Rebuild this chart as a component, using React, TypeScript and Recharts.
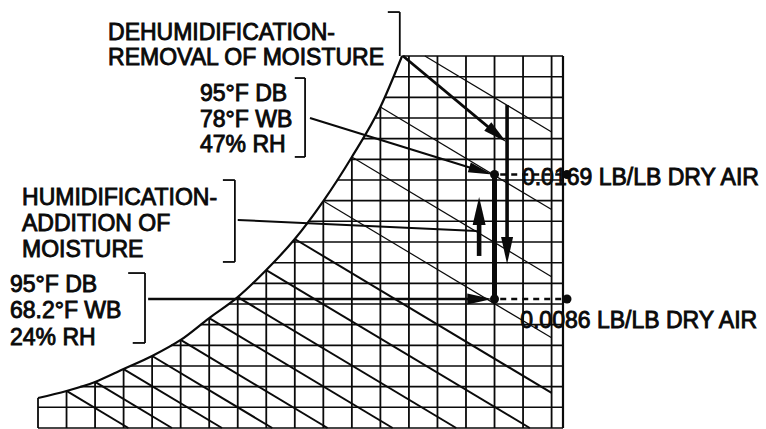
import React from 'react';
import { ComposedChart, Line, XAxis, YAxis, ReferenceLine, ReferenceDot } from 'recharts';

// ---- Chart frame (dry bulb °F on x, humidity ratio lb/lb on y) ----
const dryBulbDomain = [15, 107];
const humidityDomain = [0, 0.0248];

// ---- Saturation curve ----
const satTemps = [15, 20, 25, 30, 35, 40, 45, 50, 55, 60, 65, 70, 75, 78.8];
const satHumidity = [0.002, 0.00247, 0.00307, 0.00393, 0.0048, 0.00587, 0.00733, 0.00873, 0.01053, 0.0126, 0.01513, 0.01807, 0.0214, 0.0248];

// ---- Grid lines ----
const dryBulbGrid = [15, 20, 25, 30, 35, 40, 45, 50, 55, 60, 65, 70, 75, 80, 85, 90, 95, 100, 105];
const humidityGrid = [0, 0.00138, 0.00276, 0.00413, 0.00551, 0.00689, 0.00827, 0.00964, 0.01102, 0.0124, 0.01378, 0.01516, 0.01653, 0.01791, 0.01929, 0.02067, 0.02204, 0.02342, 0.0248];
const wetBulbStartTemps = [20, 25, 30, 35, 40, 45, 50, 55, 60, 65, 70, 75];
const wetBulbTopEntryTemps = [82.8];
const wetBulbSlope = -0.000228; // lb/lb per °F
const wetBulbEndTemp = 105;

// ---- Process states ----
const stateDryBulb = 95;
const stateHumidity = [0.0169, 0.0086];
const stateLabels = ['0.0169 LB/LB DRY AIR', '0.0086 LB/LB DRY AIR'];
const stateLabelPos = [[99.8, 0.0162], [99.5, 0.00667]];
const dashEndTemp = 107.7;

// ---- Text blocks ----
const dehumidText = ['DEHUMIDIFICATION-', 'REMOVAL OF MOISTURE'];
const highStateText = ['95°F DB', '78°F WB', '47% RH'];
const humidText = ['HUMIDIFICATION-', 'ADDITION OF', 'MOISTURE'];
const lowStateText = ['95°F DB', '68.2°F WB', '24% RH'];

// ---- Annotation geometry in chart units [t, w] ----
const dehumidLeader = [[78.96, 0.0248], [97.05, 0.01907]];
const dehumidArrow = [[97.2, 0.02153], [97.2, 0.01093]];
const humidArrow = [[92.3, 0.01147], [92.3, 0.0154]];
const highLeader = [[62.66, 0.02067], [94.6, 0.0169]];
const humidLeader = [[50.0, 0.01387], [91.9, 0.01313]];
const lowLeader = [[34.3, 0.0086], [94.6, 0.0086]];
const brackets = [
  [[76.3, 0.02773], [78.4, 0.02773], [78.4, 0.0248]],
  [[60.0, 0.02333], [61.8, 0.02333], [61.8, 0.01807], [60.0, 0.01807]],
  [[47.4, 0.01653], [49.5, 0.01653], [49.5, 0.01107], [47.4, 0.01107]],
  [[30.8, 0.01033], [33.75, 0.01033], [33.75, 0.00567], [31.6, 0.00567]],
];

function interp(xs: number[], ys: number[], x: number) {
  if (x <= xs[0]) return ys[0];
  for (let i = 1; i < xs.length; i++) {
    if (x <= xs[i]) {
      const f = (x - xs[i - 1]) / (xs[i] - xs[i - 1]);
      return ys[i - 1] + f * (ys[i] - ys[i - 1]);
    }
  }
  return ys[ys.length - 1];
}
const satW = (t: number) => (t > satTemps[satTemps.length - 1] ? humidityDomain[1] : interp(satTemps, satHumidity, t));
const satT = (w: number) => interp(satHumidity, satTemps, w);

type Seg = { key: string; data: { t: number; w: number }[]; width: number };
const segs: Seg[] = [];
dryBulbGrid.forEach((t) => segs.push({ key: 'v' + t, data: [{ t, w: satW(t) }, { t, w: 0 }], width: 1.8 }));
segs.push({ key: 'vr', data: [{ t: dryBulbDomain[1], w: humidityDomain[1] }, { t: dryBulbDomain[1], w: 0 }], width: 2.2 });
humidityGrid.forEach((w, i) => segs.push({ key: 'h' + i, data: [{ t: satT(w), w }, { t: dryBulbDomain[1], w }], width: 1.6 }));
const wbStarts = [
  ...wetBulbStartTemps.map((t) => ({ t, w: satW(t) })),
  ...wetBulbTopEntryTemps.map((t) => ({ t, w: humidityDomain[1] })),
];
wbStarts.forEach((s, i) => {
  const tZero = s.t + s.w / -wetBulbSlope;
  const tEnd = Math.min(wetBulbEndTemp, tZero);
  const wEnd = Math.max(0, s.w + wetBulbSlope * (tEnd - s.t));
  segs.push({ key: 'wb' + i, data: [s, { t: tEnd, w: wEnd }], width: s.t <= 60 ? 2 : 1.2 });
});
const satData = satTemps.map((t, i) => ({ t, w: satHumidity[i] }));

const INK = '#0a0a0a';
const FONT = "'Liberation Sans', Arial, Helvetica, sans-serif";

const arrowShape = (width: number, headLen: number, headW: number) => (p: any) => {
  const x1 = Number(p.x1), y1 = Number(p.y1), x2 = Number(p.x2), y2 = Number(p.y2);
  const dx = x2 - x1, dy = y2 - y1;
  const len = Math.hypot(dx, dy) || 1;
  const ux = dx / len, uy = dy / len;
  const px = -uy, py = ux;
  if (headLen <= 0) {
    return <line x1={x1} y1={y1} x2={x2} y2={y2} stroke={INK} strokeWidth={width} />;
  }
  const bx = x2 - ux * headLen, by = y2 - uy * headLen;
  return (
    <g>
      <line x1={x1} y1={y1} x2={bx + ux * 2} y2={by + uy * 2} stroke={INK} strokeWidth={width} />
      <polygon
        points={`${x2},${y2} ${bx + (px * headW) / 2},${by + (py * headW) / 2} ${bx - (px * headW) / 2},${by - (py * headW) / 2}`}
        fill={INK}
      />
    </g>
  );
};

const textShape = (lines: string[], lineHeight: number) => (p: any) => (
  <text
    x={p.cx}
    y={p.cy}
    fontFamily={FONT}
    fontSize={23}
    fill={INK}
    stroke={INK}
    strokeWidth={0.9}
  >
    {lines.map((l, i) => (
      <tspan key={i} x={p.cx} dy={i === 0 ? 0 : lineHeight}>
        {l}
      </tspan>
    ))}
  </text>
);

export default function App() {
  const arrow = (pts: number[][], width: number, headLen: number, headW: number, key: string) => (
    <ReferenceLine
      key={key}
      segment={[{ x: pts[0][0], y: pts[0][1] }, { x: pts[1][0], y: pts[1][1] }]}
      ifOverflow="visible"
      shape={arrowShape(width, headLen, headW)}
    />
  );
  const textBlock = (t: number, w: number, lines: string[], lh: number, key: string) => (
    <ReferenceDot key={key} x={t} y={w} r={0} ifOverflow="visible" shape={textShape(lines, lh)} />
  );

  return (
    <div style={{ position: 'absolute', left: 0, top: 0, width: 766, height: 429, background: '#fff' }}>
      <ComposedChart width={766} height={429} margin={{ top: 56, right: 203, bottom: 1, left: 38 }}>
        <XAxis type="number" dataKey="t" domain={dryBulbDomain} hide />
        <YAxis type="number" dataKey="w" domain={humidityDomain} hide />
        {segs.map((s) => (
          <Line
            key={s.key}
            data={s.data}
            dataKey="w"
            type="linear"
            stroke={INK}
            strokeWidth={s.width}
            dot={false}
            activeDot={false}
            isAnimationActive={false}
          />
        ))}
        <Line
          data={satData}
          dataKey="w"
          type="monotone"
          stroke={INK}
          strokeWidth={2.2}
          dot={false}
          activeDot={false}
          isAnimationActive={false}
        />

        {brackets.flatMap((b, bi) =>
          b.slice(1).map((pt, i) => arrow([b[i], pt], 1.8, 0, 0, `br${bi}-${i}`))
        )}

        {arrow(dehumidLeader, 2.8, 24, 11, 'dl')}
        {arrow(dehumidArrow, 3.6, 27, 12, 'da')}
        {arrow(humidArrow, 4.6, 28, 13, 'ha')}
        {arrow(highLeader, 2.2, 24, 10, 'hl')}
        {arrow(humidLeader, 2.0, 0, 0, 'ml')}
        {arrow(lowLeader, 2.6, 25, 11, 'll')}
        {arrow([[stateDryBulb, stateHumidity[0]], [stateDryBulb, stateHumidity[1]]], 5, 0, 0, 'pl')}

        {stateHumidity.map((w, i) => (
          <ReferenceLine
            key={'dash' + i}
            segment={[{ x: stateDryBulb + 1, y: w }, { x: dashEndTemp, y: w }]}
            ifOverflow="visible"
            stroke={INK}
            strokeWidth={2.4}
            strokeDasharray="6 5"
          />
        ))}
        {stateHumidity.map((w, i) => (
          <ReferenceDot key={'sd' + i} x={stateDryBulb} y={w} r={4.5} fill={INK} stroke="none" ifOverflow="visible" />
        ))}
        {stateHumidity.map((w, i) => (
          <ReferenceDot key={'ed' + i} x={dashEndTemp} y={w} r={4.5} fill={INK} stroke="none" ifOverflow="visible" />
        ))}

        {textBlock(27.27, 0.02587, dehumidText, 25, 'tx1')}
        {textBlock(43.39, 0.0218, highStateText, 25.5, 'tx2')}
        {textBlock(12.2, 0.01487, humidText, 26, 'tx3')}
        {textBlock(10.09, 0.00907, lowStateText, 26.5, 'tx4')}
        {stateLabels.map((l, i) => textBlock(stateLabelPos[i][0], stateLabelPos[i][1], [l], 0, 'sl' + i))}
      </ComposedChart>
    </div>
  );
}
